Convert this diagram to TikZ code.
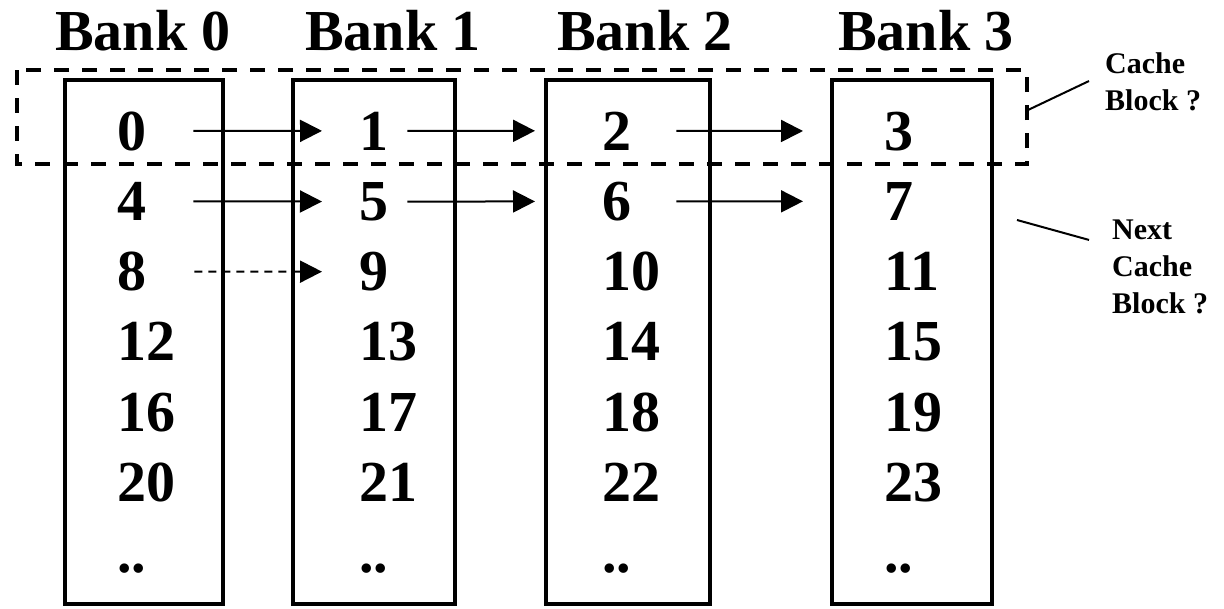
\documentclass[tikz,border=0pt]{standalone}
\usepackage{fontspec}
\setmainfont{Liberation Serif}
\usetikzlibrary{arrows.meta, positioning}
\tikzset{>=stealth}
\tikzset{
  banktitle/.style={anchor=base west, inner sep=0pt, font=\fontsize{58}{58}\selectfont\bfseries},
  cell/.style={anchor=base west, inner sep=0pt, font=\fontsize{58}{58}\selectfont\bfseries},
  bankbox/.style={line width=4pt},
  blockbox/.style={line width=4pt, dash pattern=on 15pt off 13pt},
  nextarrow/.style={line width=2pt, -{Triangle[length=22pt,width=22pt]}},
  note/.style={anchor=north west, inner sep=0pt, align=left, font=\fontsize{30}{37}\selectfont\bfseries},
  callout/.style={line width=2pt}
}
\begin{document}
\begin{tikzpicture}[x=1pt, y=-1pt]
  \useasboundingbox (0,0) rectangle (1224,608);
  % banks
  \foreach \c/\l/\r in {0/65/223,1/293/455,2/546/710,3/832/992}
    \draw[bankbox] (\l,80) rectangle (\r,604);
  \foreach \c/\x in {0/55,1/305,2/557,3/838}
    \node[banktitle] (bank\c) at (\x,50) {Bank \c};
  % words
  \foreach \c/\x in {0/117,1/359,2/602,3/884} {
    \foreach \r in {0,...,5} {
      \pgfmathtruncatemacro\v{4*\r+\c}
      \node[cell] (n\c-\r) at (\x,150+70.3*\r) {\v};
    }
    \node[cell] (n\c-6) at (\x,572) {..};
  }
  % cache block
  \draw[blockbox] (17,70) rectangle (1027,164);
  \foreach \c/\d/\s/\e in {0/1/47pt/37pt,1/2/19pt/67pt,2/3/45pt/81pt}
    \foreach \r in {0,1}
      \draw[nextarrow, shorten <=\s, shorten >=\e] (n\c-\r.east) -- (n\d-\r.west);
  \draw[nextarrow, dash pattern=on 8pt off 6pt, shorten <=48pt, shorten >=37pt] (n0-2.east) -- (n1-2.west);
  % notes
  \node[note] (blocklbl) at (1105,52.7) {Cache\\Block ?};
  \node[note] (nextlbl) at (1112,219.7) {Next\\Cache\\Block ?};
  \coordinate (blockedge) at (1028,110);
  \coordinate (nextedge) at (1017,220);
  \draw[callout] (blockedge) -- ([xshift=-16pt,yshift=1pt]blocklbl.west);
  \draw[callout] (nextedge) -- ([xshift=-23pt,yshift=27pt]nextlbl.west);
\end{tikzpicture}
\end{document}
